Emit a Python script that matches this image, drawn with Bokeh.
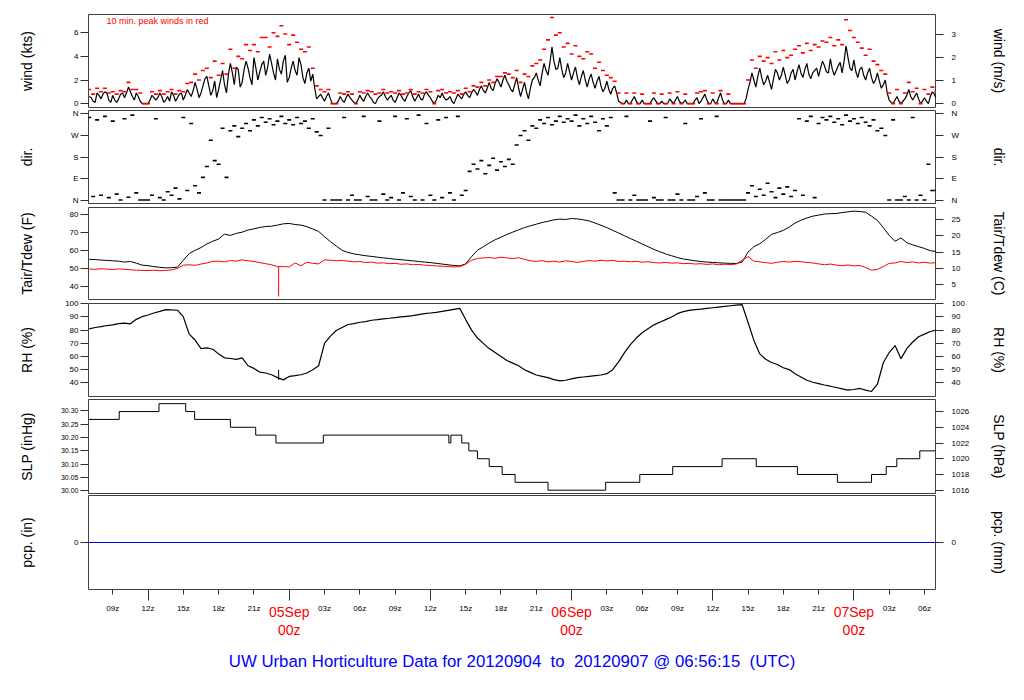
import numpy as np
from bokeh.plotting import figure
from bokeh.models import Range1d, LinearAxis, FixedTicker, Label
from bokeh.layouts import column
from bokeh.embed import file_html
from bokeh.resources import INLINE

FONT = "Liberation Sans"

# time axis: hours since 2012-09-04 00z
T_START = 6.9375   # 04Sep 06:56:15
T_END = 78.9375    # 07Sep 06:56:15

# ---------------- wind speed (kts) ----------------
# samples at hh:00, hh:20, hh:40 from 04Sep 07:00
wind_kts = [
    0.6, 0.2, 0.9,  0.4, 1.0, 0.3,  0.7, 0.1, 0.8,  0.5, 1.4, 0.6,   # 07-10
    0.9, 0.2, 0.0,  0.0, 0.7, 0.3,  0.9, 0.1, 0.6,  1.0, 0.2, 0.8,   # 11-14
    0.3, 1.2, 0.6,  1.8, 0.5, 1.5,  2.3, 0.7, 1.9,  1.2, 2.8, 0.9,   # 15-18
    3.4, 1.6, 2.9,  1.8, 3.6, 2.2,  3.9, 2.0, 3.3,  2.4, 4.2, 2.6,   # 19-22
    3.8, 2.5, 4.1,  2.2, 3.6, 2.4,  3.3, 1.7, 3.0,  2.5, 0.4, 0.8,   # 23-26
    0.2, 0.9, 0.0,  0.0, 0.6, 0.1,  0.8, 0.3, 0.0,  0.7, 0.2, 0.9,   # 27-30
    0.4, 0.0, 0.6,  1.0, 0.3, 0.7,  0.1, 0.9, 0.4,  0.6, 1.1, 0.2,   # 31-34
    0.8, 0.3, 1.0,  0.5, 0.0, 0.7,  0.9, 0.3, 0.6,  0.0, 0.8, 0.4,   # 35-38
    1.0, 0.5, 1.2,  0.7, 1.5, 0.9,  1.8, 1.1, 2.1,  1.4, 2.4, 1.6,   # 39-42
    1.0, 2.2, 0.6,  1.8, 0.4, 2.0,  2.6, 1.5, 3.4,  2.4, 4.8, 2.9,   # 43-46
    3.9, 2.2, 3.4,  2.0, 3.1, 1.6,  2.8, 1.4, 2.5,  1.3, 2.3, 1.0,   # 47-50
    1.9, 0.8, 1.5,  0.2, 0.0, 0.3,  0.0, 0.6, 0.0,  0.3, 0.0, 0.0,   # 51-54
    0.5, 0.0, 0.2,  0.0, 0.4, 0.0,  0.6, 0.0, 0.3,  0.0, 0.0, 0.5,   # 55-58
    0.2, 0.8, 0.0,  0.4, 0.0, 0.9,  0.0, 0.3, 0.0,  0.0, 0.0, 0.0,   # 59-62
    1.2, 2.6, 1.4,  3.0, 1.6, 2.4,  1.2, 2.9, 2.0,  3.1, 1.7, 2.6,   # 63-66
    2.0, 3.3, 2.2,  3.4, 2.1, 2.8,  2.3, 3.6, 2.7,  3.8, 2.4, 3.2,   # 67-70
    2.6, 4.9, 3.0,  3.7, 2.2, 3.1,  2.0, 3.0, 1.7,  2.6, 1.3, 2.0,   # 71-74
    0.3, 0.0, 0.6,  0.0, 0.4, 1.2,  0.3, 0.9, 0.0,  0.5, 0.0, 1.0,   # 75-78
    0.4,
]
# samples at hh:10, hh:30, hh:50 from 04Sep 07:10
wind_kts_mid = [
    0.5, 0.1, 0.7,  0.8, 0.9, 0.1,  0.3, 0.4, 0.9,  0.9, 1.0, 0.3,   # 07-10
    0.6, 0.0, 0.0,  0.3, 0.5, 0.5,  0.6, 0.3, 0.2,  0.7, 0.5, 0.9,   # 11-14
    0.7, 0.9, 1.1,  1.2, 0.9, 2.1,  1.5, 1.1, 0.5,  2.0, 1.6, 2.5,   # 15-18
    2.6, 3.1, 1.4,  2.9, 3.0, 1.6,  3.0, 2.7, 3.6,  3.1, 3.4, 2.0,   # 19-22
    2.9, 3.6, 1.8,  3.0, 2.8, 3.9,  2.2, 2.6, 1.9,  1.3, 0.6, 0.5,   # 23-26
    0.6, 0.4, 0.0,  0.2, 0.3, 0.5,  0.5, 0.1, 0.3,  0.4, 0.6, 0.6,   # 27-30
    0.1, 0.4, 0.7,  0.6, 0.5, 0.3,  0.5, 0.7, 0.2,  0.9, 0.6, 0.5,   # 31-34
    0.4, 0.8, 0.7,  0.2, 0.3, 0.5,  0.5, 0.4, 0.2,  0.4, 0.6, 0.8,   # 35-38
    0.7, 0.9, 1.0,  1.2, 1.1, 1.3,  1.3, 1.7, 1.8,  2.0, 1.9, 1.2,   # 39-42
    1.6, 1.3, 1.2,  1.0, 1.3, 2.2,  2.0, 2.6, 2.8,  3.5, 3.6, 3.0,   # 43-46
    2.9, 2.6, 2.7,  2.6, 2.2, 2.3,  2.0, 2.1, 1.8,  1.9, 1.5, 1.3,   # 47-50
    1.2, 1.3, 0.9,  0.1, 0.0, 0.0,  0.3, 0.2, 0.0,  0.0, 0.0, 0.3,   # 51-54
    0.2, 0.0, 0.0,  0.0, 0.2, 0.3,  0.2, 0.1, 0.0,  0.0, 0.3, 0.0,   # 55-58
    0.5, 0.3, 0.0,  0.1, 0.5, 0.3,  0.0, 0.0, 0.0,  0.0, 0.0, 0.4,   # 59-62
    1.8, 2.0, 2.3,  2.2, 1.9, 1.8,  2.1, 2.6, 2.4,  2.4, 2.0, 2.9,   # 63-66
    2.7, 2.6, 2.9,  2.5, 2.6, 3.0,  3.0, 3.2, 2.6,  2.9, 2.8, 3.5,   # 67-70
    3.6, 3.9, 2.8,  2.7, 2.9, 2.4,  2.6, 2.2, 2.0,  1.9, 1.6, 0.9,   # 71-74
    0.1, 0.3, 0.2,  0.2, 0.7, 0.6,  0.6, 0.4, 0.2,  0.2, 0.6, 0.8,   # 75-78
]
# 10-min peak gusts at hh:00, hh:20, hh:40
peak_kts = [
    1.2, 0.8, 1.3,  1.0, 1.3, 0.9,  1.0, 0.8, 1.1,  1.0, 1.8, 1.2,   # 07-10
    1.2, 0.9, 0.0,  0.0, 1.0, 0.8,  1.1, 0.8, 1.0,  1.2, 0.8, 1.1,   # 11-14
    1.0, 1.7, 1.8,  2.5, 2.0, 2.8,  3.0, 2.2, 3.6,  2.4, 3.4, 2.5,   # 15-18
    4.6, 3.0, 4.0,  3.8, 5.0, 4.5,  5.0, 4.4, 5.6,  5.6, 4.8, 6.0,   # 19-22
    5.7, 6.6, 5.9,  5.0, 5.8, 5.2,  4.6, 4.4, 4.8,  3.0, 1.5, 1.2,   # 23-26
    1.0, 1.2, 0.0,  0.0, 0.9, 0.8,  1.0, 0.8, 0.0,  1.0, 0.9, 1.1,   # 27-30
    1.0, 0.8, 0.9,  1.2, 0.9, 1.0,  0.9, 1.1, 0.8,  0.9, 1.2, 0.8,   # 31-34
    1.0, 0.9, 1.2,  1.0, 0.0, 1.1,  1.2, 0.9, 1.0,  0.9, 1.1, 0.8,   # 35-38
    1.3, 1.0, 1.5,  1.4, 1.8, 1.5,  2.0, 1.8, 2.3,  2.3, 2.6, 2.5,   # 39-42
    2.2, 2.8, 1.8,  2.5, 2.3, 3.2,  3.4, 3.7, 4.6,  5.4, 7.3, 5.8,   # 43-46
    6.0, 4.8, 5.1,  4.2, 4.9, 4.0,  3.8, 4.4, 4.2,  3.0, 3.5, 2.8,   # 47-50
    2.4, 2.2, 1.9,  0.9, 0.0, 0.9,  0.0, 0.9, 0.0,  0.8, 0.0, 0.0,   # 51-54
    0.9, 0.0, 0.8,  0.0, 0.9, 0.0,  1.0, 0.0, 0.8,  0.0, 0.0, 0.9,   # 55-58
    1.0, 1.1, 0.0,  0.9, 0.0, 1.1,  0.0, 0.8, 0.0,  0.0, 0.0, 0.0,   # 59-62
    2.0, 3.7, 3.0,  4.0, 3.6, 3.9,  3.4, 4.4, 3.7,  4.5, 3.9, 4.1,   # 63-66
    4.6, 4.9, 4.3,  5.1, 4.5, 5.0,  4.8, 5.3, 5.2,  5.6, 4.9, 5.4,   # 67-70
    5.0, 7.1, 6.2,  5.6, 5.2, 4.7,  4.1, 4.6, 3.6,  3.3, 2.8, 2.5,   # 71-74
    0.9, 0.0, 1.2,  0.0, 0.9, 1.8,  1.0, 1.3, 0.0,  1.2, 0.8, 1.4,   # 75-78
    1.0,
]
# wind direction (deg) at hh:00, hh:20, hh:40
wind_dir = [
    345, 15, 335,  20, 350, 10,  330, 25, 0,  340, 12, 355,          # 07-10
    30, 0, 0,  0, 20, 340,  10, 0, 35,  20, 50, 5,                   # 11-14
    345, 40, 320,  60, 30, 95,  140, 250, 165,  150, 300, 95,        # 15-18
    290, 310, 265,  300, 320, 290,  335, 310, 345,  325, 340, 315,   # 19-22
    330, 350, 320,  335, 315, 345,  320, 330, 300,  340, 285, 270,   # 23-26
    0, 300, 0,  0, 0, 345,  0, 20, 0,  0, 350, 15,                   # 27-30
    0, 0, 330,  25, 0, 10,  350, 0, 30,  340, 15, 0,                 # 31-34
    355, 0, 320,  20, 0, 335,  10, 345, 30,  0, 350, 20,             # 35-38
    40, 120, 150,  130, 165, 110,  145, 175, 125,  160, 140, 170,    # 39-42
    150, 230, 270,  290, 250, 310,  300, 335, 320,  345, 315, 330,   # 43-46
    350, 325, 340,  330, 355, 310,  340, 320, 350,  325, 290, 340,   # 47-50
    310, 345, 30,  0, 0, 350,  0, 20, 0,  0, 0, 330,                 # 51-54
    10, 0, 0,  345, 0, 0,  25, 0, 320,  0, 0, 15,                    # 55-58
    340, 30, 0,  0, 350, 0,  0, 0, 0,  0, 0, 0,                      # 59-62
    30, 60, 15,  45, 20, 70,  35, 10, 50,  25, 55, 15,               # 63-66
    40, 340, 20,  330, 350, 10,  320, 345, 335,  350, 325, 340,      # 67-70
    315, 355, 330,  340, 320, 345,  325, 310, 335,  290, 300, 270,   # 71-74
    0, 335, 0,  0, 15, 0,  345, 0, 20,  0, 150, 40,                  # 75-78
    40,
]
t_wind = 7.0 + np.arange(len(wind_kts)) / 3.0
t_wind_mid = 7.0 + 1.0 / 6.0 + np.arange(len(wind_kts_mid)) / 3.0

# ---------------- temperature / humidity (30-min samples from 04Sep 07:00) ----------------
tair_f = [
    55.0, 54.9, 54.6, 54.4, 54.2, 54.0, 53.5, 53.8, 52.9, 51.8, 51.5, 51.0,   # 07-12
    50.6, 50.3, 50.4, 50.7, 54.5, 58.2, 60.0, 61.5, 63.5, 65.0, 66.2, 68.9,   # 13-18
    68.2, 69.3, 70.0, 71.2, 71.8, 72.6, 73.1, 73.3, 73.9, 74.6, 74.8, 74.2,   # 19-24
    73.9, 73.0, 71.8, 70.4, 67.5, 64.8, 62.3, 60.0, 58.8, 58.0, 57.5, 57.0,   # 25-30
    56.6, 56.2, 55.8, 55.5, 55.1, 54.8, 54.5, 54.2, 53.8, 53.5, 53.2, 52.8,   # 31-36
    52.4, 52.0, 51.6, 51.4, 52.5, 56.5, 60.0, 62.0, 64.0, 65.8, 67.2, 68.7,   # 37-42
    70.0, 71.3, 72.5, 73.5, 74.4, 75.3, 76.0, 76.8, 77.2, 77.0, 77.5, 77.3,   # 43-48
    76.8, 76.2, 75.0, 73.8, 72.5, 71.0, 69.5, 68.0, 66.5, 65.0, 63.5, 62.0,   # 49-54
    60.5, 59.2, 58.0, 57.0, 56.0, 55.2, 54.7, 54.2, 53.8, 53.5, 53.3, 53.1,   # 55-60
    52.9, 52.8, 52.7, 53.5, 59.0, 62.0, 63.6, 66.0, 68.8, 69.8, 71.0, 72.8,   # 61-66
    75.0, 76.6, 77.8, 78.8, 79.4, 80.0, 80.2, 80.3, 80.8, 81.2, 81.6, 81.4,   # 67-72
    81.0, 78.8, 76.5, 72.5, 68.2, 65.0, 66.8, 64.2, 63.0, 62.0, 61.0, 59.8,   # 73-78
    59.3,
]
tdew_f = [
    49.7, 49.5, 49.8, 49.6, 49.4, 49.7, 49.5, 49.3, 49.0, 48.9, 48.8, 49.0,   # 07-12
    48.7, 48.9, 49.2, 50.0, 51.8, 52.0, 51.7, 52.4, 53.0, 53.9, 54.0, 53.6,   # 13-18
    54.3, 54.0, 54.7, 54.2, 53.8, 53.2, 52.6, 52.0, 51.0, 51.0, 50.8, 53.0,   # 19-24
    51.5, 53.4, 52.8, 52.5, 54.7, 54.5, 54.2, 54.4, 54.0, 53.6, 53.8, 53.2,   # 25-30
    53.5, 52.9, 53.1, 52.6, 52.8, 52.3, 52.5, 52.0, 52.2, 51.8, 51.6, 51.4,   # 31-36
    51.2, 51.0, 50.8, 51.0, 52.3, 54.5, 55.5, 55.8, 56.0, 55.6, 56.2, 55.8,   # 37-42
    55.4, 55.9, 55.0, 54.2, 53.8, 54.3, 53.6, 54.0, 53.5, 54.2, 53.8, 53.3,   # 43-48
    53.9, 54.3, 54.0, 54.5, 54.1, 54.4, 53.8, 54.0, 53.6, 53.9, 53.4, 53.7,   # 49-54
    53.2, 53.0, 53.3, 52.9, 53.1, 52.6, 52.8, 52.4, 52.6, 52.2, 52.5, 52.0,   # 55-60
    52.3, 52.1, 52.4, 54.5, 56.5, 54.0, 53.6, 53.2, 52.8, 53.4, 53.8, 53.5,   # 61-66
    53.9, 53.7, 53.3, 53.0, 52.5, 52.0, 52.4, 51.8, 51.5, 51.9, 51.4, 51.6,   # 67-72
    50.5, 49.0, 49.5, 51.0, 52.8, 53.0, 53.8, 53.2, 53.6, 53.0, 53.4, 52.9,   # 73-78
    53.2,
]
rh_pct = [
    81.0, 82.0, 82.7, 83.5, 84.0, 85.0, 85.3, 84.8, 88.2, 90.2, 91.5, 93.0,   # 07-12
    94.2, 95.6, 95.3, 95.1, 90.0, 77.0, 72.5, 66.0, 66.5, 65.5, 62.0, 59.0,   # 13-18
    58.5, 57.8, 59.0, 53.0, 51.0, 48.2, 47.5, 46.2, 44.0, 42.3, 44.9, 45.5,   # 19-24
    46.2, 47.5, 50.0, 53.0, 70.0, 75.5, 79.7, 82.0, 84.3, 85.0, 86.0, 86.5,   # 25-30
    87.5, 88.0, 88.6, 89.0, 89.5, 90.0, 90.5, 91.0, 91.8, 92.5, 93.0, 93.5,   # 31-36
    94.2, 95.0, 95.8, 96.5, 88.0, 80.0, 74.0, 70.0, 66.0, 63.0, 60.0, 57.0,   # 37-42
    55.0, 53.0, 50.0, 48.0, 46.0, 45.0, 44.0, 42.5, 41.5, 42.0, 43.0, 44.0,   # 43-48
    44.5, 45.0, 45.5, 46.0, 47.0, 50.0, 56.0, 63.0, 69.0, 74.0, 78.0, 81.0,   # 49-54
    84.0, 86.0, 88.0, 90.0, 92.5, 94.0, 95.0, 95.6, 96.0, 96.5, 97.0, 97.5,   # 55-60
    98.0, 98.5, 99.0, 99.3, 86.0, 72.2, 62.0, 57.9, 55.5, 54.0, 51.5, 50.1,   # 61-66
    47.0, 44.5, 42.0, 40.5, 39.5, 38.4, 37.5, 36.5, 35.5, 34.5, 35.0, 35.8,   # 67-72
    34.5, 33.5, 39.0, 55.3, 63.0, 68.3, 58.4, 66.0, 71.0, 75.0, 77.0, 79.0,   # 73-78
    80.0,
]
t_half = 7.0 + 0.5 * np.arange(len(tair_f))

# brief sensor spike near 04Sep 23z
spike_hours = [23.1]
spike_tdew_from = [51.0]
spike_tdew_to = [34.5]
spike_rh_from = [42.3]
spike_rh_to = [50.0]

# ---------------- sea-level pressure (hPa, step changes) ----------------
slp_change_hours = [T_START, 9.55, 12.93, 15.2, 15.96, 19.0, 21.15, 22.87, 26.9,
                    37.57, 37.74, 38.67, 39.27, 40.0, 41.0, 42.1, 43.2, 46.0,
                    50.9, 53.8, 56.6, 60.8, 63.7, 67.2, 70.6, 73.5, 74.75,
                    75.65, 77.6, T_END]
slp_hpa = [1025, 1026, 1027, 1026, 1025, 1024, 1023, 1022, 1023,
           1022, 1023, 1022, 1021, 1020, 1019, 1018, 1017, 1016,
           1017, 1018, 1019, 1020, 1019, 1018, 1017, 1018, 1019,
           1020, 1021, 1021]

# ---------------- precipitation ----------------
pcp_hours = [T_START, T_END]
pcp_in = [0.0, 0.0]

# ---------------- labels ----------------
x_tick_hours = list(range(9, 79, 3))
day_start_hours = [24, 48, 72]
day_names = ["05Sep", "06Sep", "07Sep"]
title_text = "UW Urban Horticulture Data for 20120904\u00a0 to\u00a0 20120907 @ 06:56:15\u00a0 (UTC)"

KTS_PER_MS = 1.94384
HPA_PER_INHG = 33.8639

W = 1016
BORDER_L = 88
BORDER_R = 81
x_range = Range1d(T_START, T_END)


def make_fig(height, top, bottom, y_range):
    p = figure(width=W, height=height, x_range=x_range, y_range=y_range,
               output_backend="svg", toolbar_location=None,
               min_border_left=BORDER_L, min_border_right=BORDER_R,
               min_border_top=top, min_border_bottom=bottom,
               x_axis_type=None, y_axis_type=None)
    p.outline_line_color = "#404040"
    p.outline_line_width = 1
    p.background_fill_color = "white"
    p.border_fill_color = "white"
    return p


def add_y_axis(p, side, ticks, label, label_standoff, range_name="default",
               overrides=None, font_size="8px"):
    ax = LinearAxis(y_range_name=range_name)
    ax.ticker = FixedTicker(ticks=ticks, minor_ticks=[])
    ax.axis_line_color = None
    ax.major_tick_in = 0
    ax.major_tick_out = 8
    ax.minor_tick_in = 0
    ax.minor_tick_out = 0
    ax.major_tick_line_color = "#303030"
    ax.major_label_text_font = FONT
    ax.major_label_text_font_size = font_size
    ax.major_label_text_color = "black"
    ax.major_label_standoff = 2 if side == "left" else 8
    ax.axis_label = label
    ax.axis_label_text_font = FONT
    ax.axis_label_text_font_size = "14px"
    ax.axis_label_text_font_style = "normal"
    ax.axis_label_text_color = "black"
    ax.axis_label_standoff = label_standoff
    if overrides:
        ax.major_label_overrides = overrides
    p.add_layout(ax, side)
    return ax


# ---- panel 1: wind ----
wind_lo, wind_hi = -0.33, 7.55
p1 = make_fig(108, 14, 1, Range1d(wind_lo, wind_hi))
p1.extra_y_ranges = {"ms": Range1d(wind_lo / KTS_PER_MS, wind_hi / KTS_PER_MS)}
order = np.argsort(np.concatenate([t_wind, t_wind_mid]), kind="stable")
t_all = np.concatenate([t_wind, t_wind_mid])[order]
w_all = np.concatenate([wind_kts, wind_kts_mid])[order]
p1.line(t_all, w_all, color="black", line_width=1.2)
p1.scatter(t_wind, peak_kts, marker="dash", size=4, line_width=1.6, color="red")
add_y_axis(p1, "left", [0, 2, 4, 6], "wind (kts)", 36)
add_y_axis(p1, "right", [0, 1, 2, 3], "wind (m/s)", 32, range_name="ms")
p1.add_layout(Label(x=18, y=87, x_units="screen", y_units="screen",
                    text="10 min. peak winds in red", text_color="red",
                    text_font=FONT, text_font_size="9px", text_baseline="middle"))

# ---- panel 2: direction ----
p2 = make_fig(96, 2, 1, Range1d(-14.4, 374.4))
p2.scatter(t_wind, wind_dir, marker="dash", size=4, line_width=1.6, color="black")
dir_labels = {0: "N", 90: "E", 180: "S", 270: "W", 360: "N"}
add_y_axis(p2, "left", [0, 90, 180, 270, 360], "dir.", 33, overrides=dir_labels)
add_y_axis(p2, "right", [0, 90, 180, 270, 360], "dir.", 29, overrides=dir_labels)

# ---- panel 3: temperature ----
tf_lo, tf_hi = 32.85, 83.6
p3 = make_fig(96, 3, 1, Range1d(tf_lo, tf_hi))
p3.extra_y_ranges = {"c": Range1d((tf_lo - 32) / 1.8, (tf_hi - 32) / 1.8)}
p3.line(t_half, tair_f, color="black", line_width=1)
p3.line(t_half, tdew_f, color="red", line_width=1)
p3.segment(x0=spike_hours, y0=spike_tdew_from, x1=spike_hours, y1=spike_tdew_to,
           color="red", line_width=1)
add_y_axis(p3, "left", [40, 50, 60, 70, 80], "Tair/Tdew (F)", 32)
add_y_axis(p3, "right", [5, 10, 15, 20, 25], "Tair/Tdew (C)", 28, range_name="c")

# ---- panel 4: RH ----
p4 = make_fig(97, 3, 1, Range1d(29.7, 100.2))
p4.line(t_half, rh_pct, color="black", line_width=1.2)
p4.segment(x0=spike_hours, y0=spike_rh_from, x1=spike_hours, y1=spike_rh_to,
           color="black", line_width=1)
add_y_axis(p4, "left", [40, 50, 60, 70, 80, 90, 100], "RH (%)", 27)
add_y_axis(p4, "right", [40, 50, 60, 70, 80, 90, 100], "RH (%)", 23)

# ---- panel 5: SLP ----
slp_lo, slp_hi = 29.99, 30.343
p5 = make_fig(97, 2, 1, Range1d(slp_lo, slp_hi))
p5.extra_y_ranges = {"hpa": Range1d(slp_lo * HPA_PER_INHG, slp_hi * HPA_PER_INHG)}
p5.step(slp_change_hours, slp_hpa, mode="after", color="black", line_width=1,
        y_range_name="hpa")
slp_ticks = [30.00, 30.05, 30.10, 30.15, 30.20, 30.25, 30.30]
add_y_axis(p5, "left", slp_ticks, "SLP (inHg)", 23,
           overrides={v: f"{v:.2f}" for v in slp_ticks}, font_size="7px")
add_y_axis(p5, "right", [1016, 1018, 1020, 1022, 1024, 1026], "SLP (hPa)", 19,
           range_name="hpa")

# ---- panel 6: precipitation + time ticks ----
p6 = make_fig(107, 1, 12, Range1d(-1, 1))
p6.extra_y_ranges = {"mm": Range1d(-25.4, 25.4)}
p6.line(pcp_hours, pcp_in, color="blue", line_width=1)
add_y_axis(p6, "left", [0], "pcp. (in)", 36)
add_y_axis(p6, "right", [0], "pcp. (mm)", 32, range_name="mm")

xa = LinearAxis()
xa.ticker = FixedTicker(ticks=[h for h in x_tick_hours if h % 24 != 0],
                        minor_ticks=[h for h in x_tick_hours if h % 12 == 0])
xa.axis_line_color = None
xa.major_tick_in = 0
xa.major_tick_out = 5
xa.minor_tick_in = 0
xa.minor_tick_out = 11
xa.major_tick_line_color = "#303030"
xa.minor_tick_line_color = "#303030"
xa.major_label_text_font_size = "0px"
xa.major_label_text_alpha = 0
xa.major_label_standoff = 0
p6.add_layout(xa, "below")

# ---- strip below: time labels, day labels and title ----
STRIP_H = 80
p7 = figure(width=W, height=STRIP_H, x_range=x_range, y_range=Range1d(STRIP_H, 0),
            output_backend="svg", toolbar_location=None,
            min_border_left=BORDER_L, min_border_right=BORDER_R,
            min_border_top=0, min_border_bottom=0,
            x_axis_type=None, y_axis_type=None)
p7.outline_line_color = None
p7.background_fill_color = "white"
p7.border_fill_color = "white"

small_hours = [h for h in x_tick_hours if h % 24 != 0]
small_labels = [f"{h % 24:02d}z" for h in small_hours]
p7.text(x=small_hours, y=[2] * len(small_hours), text=small_labels,
        text_align="center", text_baseline="top", text_font_size="8px",
        text_color="black", text_font={"value": FONT})
p7.text(x=day_start_hours, y=[2] * len(day_start_hours),
        text=[name + "\n00z" for name in day_names],
        text_align="center", text_baseline="top", text_font_size="14px",
        text_color="red", text_font={"value": FONT}, text_line_height=1.15)

# title, centred under the panels
p7.text(x=[(T_START + T_END) / 2], y=[60], text=[title_text],
        text_align="center", text_baseline="middle", text_font_size="16.8px",
        text_color="blue", text_font={"value": FONT})

layout = column(p1, p2, p3, p4, p5, p6, p7, spacing=0)
open("out.html", "w").write(file_html(layout, INLINE))
